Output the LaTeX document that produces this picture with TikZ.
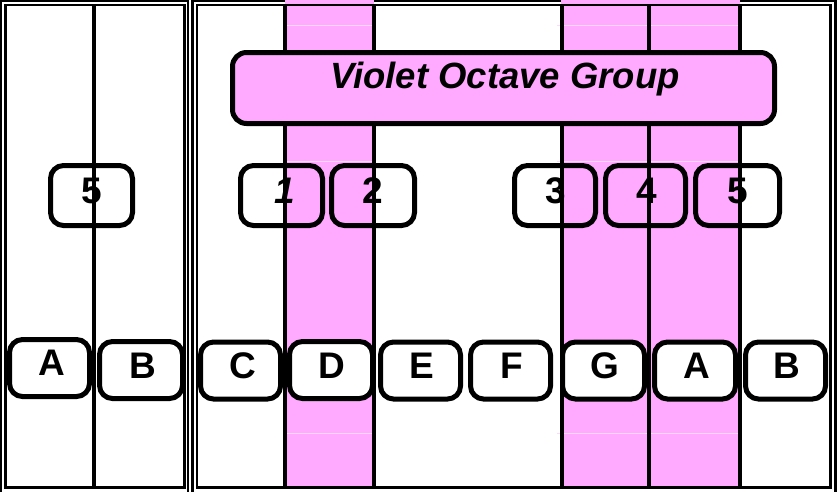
\documentclass[tikz,border=0pt]{standalone}
\usepackage{fontspec}
\setmainfont{Liberation Sans}
\definecolor{vpink}{HTML}{FFAAFF}
\definecolor{vpinklight}{HTML}{FFD8FF}
\begin{document}
\begin{tikzpicture}[x=1pt,y=-1pt,
  frameline/.style={line width=2.5pt},
  keyline/.style={line width=4pt},
  column/.style={fill=vpink, draw=none},
  faint/.style={draw=vpinklight, line width=1pt},
  keybox/.style={draw, line width=5pt, rounded corners=13pt, fill=white, minimum height=57pt, inner sep=0pt},
  numbox/.style={draw, line width=5pt, rounded corners=13pt, minimum height=60pt, minimum width=82pt, inner sep=0pt},
  banner/.style={draw, line width=5pt, rounded corners=14pt, fill=vpink, minimum width=542pt, minimum height=71pt, inner sep=0pt},
  keytext/.style={anchor=base, inner sep=0pt, font=\fontsize{37}{40}\selectfont\bfseries},
  bannertext/.style={anchor=base, inner sep=0pt, font=\fontsize{36.5}{40}\selectfont\bfseries\itshape}
]
\useasboundingbox (0,0) rectangle (837,491);
\fill[white] (0,0) rectangle (837,491);
% outer frames
\draw[frameline] (1,1) rectangle (188,494);
\draw[frameline] (192.5,1) rectangle (835.5,494);
% pink columns
\fill[column] (285,0) rectangle (374,488);
\fill[column] (561,0) rectangle (740,488);
\draw[faint] (283,25) -- (376,25);
\draw[faint] (283,161) -- (376,161);
\draw[faint] (283,433) -- (376,433);
\draw[faint] (557,25) -- (742,25);
\draw[faint] (557,161) -- (742,161);
\draw[faint] (557,433) -- (742,433);
% number boxes
\node[numbox] (n5a) at (91.5,195.5) {};
\node[numbox] (n1) at (281.5,195.5) {};
\node[numbox, minimum width=83pt] (n2) at (373,195.5) {};
\node[numbox, minimum width=81pt] (n3) at (555,195.5) {};
\node[numbox, minimum width=80pt] (n4) at (645.5,195.5) {};
\node[numbox, minimum width=84pt] (n5b) at (737.5,195.5) {};
\node[keytext] (t5a) at (91.5,203) {5};
\node[keytext, font=\fontsize{37}{40}\selectfont\bfseries\itshape] (t1) at (284.5,203) {1};
\node[keytext] (t2) at (372.5,203) {2};
\node[keytext] (t3) at (556,203) {3};
\node[keytext] (t4) at (647,203) {4};
\node[keytext] (t5b) at (737.5,203) {5};
% key lines
\draw[keyline] (94,5) -- (94,487);
\draw[keyline] (285,5) -- (285,487);
\draw[keyline] (373.5,5) -- (373.5,487);
\draw[keyline] (561.5,5) -- (561.5,487);
\draw[keyline] (649,5) -- (649,487);
\draw[keyline] (740,5) -- (740,487);
% inner frames
\draw[frameline] (5.5,5) rectangle (184.5,487.5);
\draw[frameline] (197,5) rectangle (830.5,487.5);
% banner
\node[banner] (ban) at (503.5,88) {};
\node[bannertext] (bant) at (505,88) {Violet Octave Group};
% letter keys
\node[keybox, minimum width=80pt] (kA1) at (49.5,368) {};
\node[keybox, minimum width=83pt] (kB1) at (141,370) {};
\node[keybox, minimum width=80pt] (kC) at (240.5,370.5) {};
\node[keybox, minimum width=83pt] (kD) at (331,370) {};
\node[keybox, minimum width=80pt] (kE) at (420.5,370.5) {};
\node[keybox, minimum width=80pt] (kF) at (510.5,370.5) {};
\node[keybox, minimum width=82pt] (kG) at (603.5,370.5) {};
\node[keybox, minimum width=81pt] (kA2) at (695,370.5) {};
\node[keybox, minimum width=80pt] (kB2) at (785.5,370.5) {};
\node[keytext] (lA1) at (52,375) {A};
\node[keytext] (lB1) at (143,378) {B};
\node[keytext] (lC) at (242.5,378.5) {C};
\node[keytext] (lD) at (332,378.5) {D};
\node[keytext] (lE) at (422,378.5) {E};
\node[keytext] (lF) at (512,378.5) {F};
\node[keytext] (lG) at (605,378.5) {G};
\node[keytext] (lA2) at (697,378.5) {A};
\node[keytext] (lB2) at (787,378.5) {B};
\end{tikzpicture}
\end{document}
